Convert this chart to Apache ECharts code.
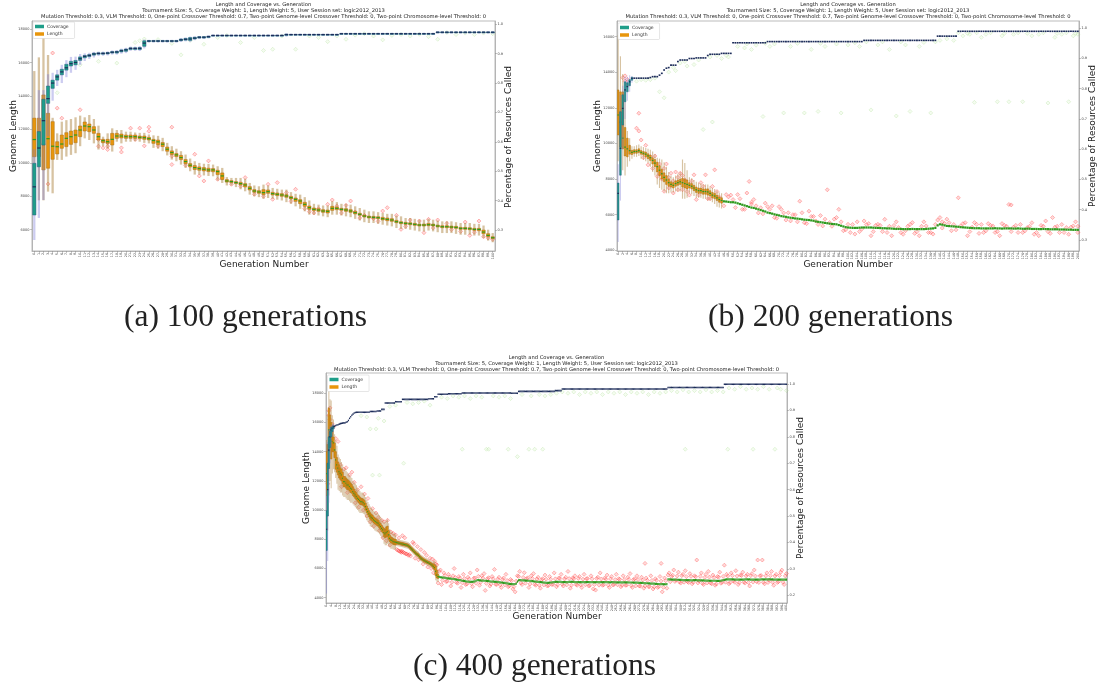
<!DOCTYPE html>
<html><head><meta charset="utf-8">
<script src="https://cdn.jsdelivr.net/npm/echarts@6/dist/echarts.min.js"></script>
<style>html,body{margin:0;padding:0;background:#fff}#c{width:1105px;height:686px}</style>
</head><body><div id="c"></div>
<script>
// ---------- categories (generation numbers) ----------
const gensA = Array.from({length:101},(_,i)=>String(i));
const gensB = Array.from({length:201},(_,i)=>String(i));
const gensC = Array.from({length:401},(_,i)=>String(i));

// ---------- tick labels ----------
const lenTicksA = [6000,8000,10000,12000,14000,16000,18000];
const covTicksA = [0.3,0.4,0.5,0.6,0.7,0.8,0.9,1.0];
const lenTicksB = [4000,6000,8000,10000,12000,14000,16000];
const covTicksB = [0.3,0.4,0.5,0.6,0.7,0.8,0.9,1.0];
const lenTicksC = [4000,6000,8000,10000,12000,14000,16000,18000];
const covTicksC = [0.2,0.3,0.4,0.5,0.6,0.7,0.8,0.9,1.0];

// ---------- (a) 100 generations ----------
const lenMedA = [11400,10950,11130,11450,11000,10970,11130,11470,11570,11670,
11970,12210,12170,11970,11570,11330,11270,11410,11610,11610,
11570,11570,11570,11530,11510,11450,11340,11260,11120,10820,
10620,10480,10320,10080,9860,9720,9660,9620,9580,9580,
9480,9220,8920,8880,8820,8760,8680,8480,8320,8260,
8220,8280,8160,8120,8080,8020,7920,7820,7720,7520,
7320,7220,7180,7120,7100,7280,7280,7220,7180,7120,
7020,6920,6820,6760,6740,6720,6660,6620,6580,6480,
6420,6380,6360,6320,6280,6280,6300,6280,6220,6180,
6180,6160,6140,6080,6080,6060,6020,6020,5860,5660,5520];
// [q1, q3, whisker low, whisker high]
const lenBoxA = [[10370,12680,9700,15500],[10380,12680,7760,16320],[9580,14070,7760,17600],[9680,12970,8280,16460],[10215,12470,8180,12700],
[10535,11270,10180,11770],[10875,11670,10180,12470],[10975,11810,10380,12560],[11110,11910,10480,12630],[11210,11970,10580,12730],
[11570,12210,11000,12830],[11910,12450,11470,12730],[11870,12330,11370,12870],[11770,12170,11170,12630],[11370,11770,10800,12230],
[11210,11410,11000,11570],[11170,11410,10870,11770],[11070,11770,10680,12070],[11470,11770,11270,11970],[11490,11730,11170,11970],
[11470,11670,11270,11870],[11470,11670,11270,11870],[11470,11670,11300,11820],[11450,11610,11270,11800],[11410,11610,11200,11800],
[11370,11530,11170,11700],[11170,11410,10900,11650],[11090,11370,10850,11620],[10980,11220,10700,11500],[10700,10950,10450,11200],
[10500,10720,10200,11000],[10380,10560,10100,10850],[10200,10450,9900,10700],[9950,10200,9700,10500],[9760,9960,9500,10260],
[9600,9840,9300,10100],[9560,9760,9300,10000],[9520,9720,9250,9950],[9480,9680,9220,9940],[9470,9660,9200,9900],
[9300,9560,8950,9800],[9000,9400,8800,9700],[8850,9000,8650,9150],[8820,8940,8650,9100],[8760,8880,8550,9100],
[8680,8840,8420,9100],[8560,8760,8300,9050],[8380,8580,8100,8800],[8240,8400,8000,8650],[8180,8340,7950,8600],
[8100,8400,7850,8700],[8180,8380,7900,8650],[8080,8240,7850,8500],[8040,8200,7800,8450],[8000,8160,7750,8400],
[7940,8100,7650,8400],[7840,8000,7550,8250],[7700,7900,7400,8150],[7560,7800,7250,8100],[7400,7640,7100,7950],
[7220,7420,6900,7750],[7140,7300,6900,7550],[7100,7260,6850,7500],[7040,7200,6800,7450],[7000,7180,6750,7450],
[7160,7400,6900,7700],[7200,7360,6900,7650],[7160,7280,6850,7550],[7100,7260,6800,7550],[7040,7200,6750,7500],
[6940,7100,6650,7400],[6860,6980,6550,7300],[6760,6880,6450,7200],[6700,6820,6400,7100],[6680,6800,6400,7100],
[6660,6780,6350,7050],[6580,6740,6300,7000],[6540,6700,6250,6950],[6500,6660,6200,6950],[6420,6560,6100,6850],
[6360,6480,6050,6800],[6320,6440,6050,6700],[6300,6420,6000,6700],[6260,6380,5950,6650],[6220,6340,5900,6600],
[6220,6340,5900,6600],[6240,6380,5950,6650],[6220,6340,5900,6600],[6160,6280,5850,6550],[6120,6240,5800,6500],
[6120,6240,5800,6500],[6100,6220,5800,6500],[6080,6200,5750,6450],[6020,6140,5700,6400],[6020,6140,5700,6400],
[6000,6120,5700,6400],[5960,6080,5650,6350],[5940,6080,5650,6350],[5760,5980,5500,6250],[5580,5760,5350,6000],
[5460,5580,5250,5800]];
const covMedA = [0.447,0.579,0.672,0.747,0.800,0.821,0.838,0.852,0.866,0.870,
0.883,0.891,0.894,0.899,0.901,0.901,0.902,0.905,0.906,0.910,
0.913,0.918,0.918,0.918,0.936,0.943,0.943,0.943,0.943,0.943,
0.943,0.943,0.947,0.949,0.950,0.953,0.956,0.956,0.958,0.962,
0.962,0.962,0.962,0.962,0.962,0.962,0.962,0.962,0.962,0.962,
0.962,0.962,0.962,0.962,0.962,0.965,0.965,0.965,0.965,0.965,
0.965,0.965,0.965,0.965,0.965,0.965,0.965,0.968,0.968,0.968,
0.968,0.968,0.968,0.968,0.968,0.968,0.968,0.968,0.968,0.968,
0.968,0.968,0.968,0.968,0.968,0.968,0.968,0.968,0.973,0.973,
0.973,0.973,0.973,0.973,0.973,0.973,0.973,0.973,0.973,0.973,0.973];
const covBoxA = [[0.351,0.527,0.266,0.575],[0.515,0.635,0.341,0.776],[0.589,0.745,0.402,0.776],[0.731,0.790,0.620,0.830],[0.782,0.810,0.740,0.835],
[0.810,0.828,0.790,0.845],[0.828,0.847,0.800,0.862],[0.844,0.864,0.820,0.878],[0.858,0.874,0.835,0.889],[0.862,0.877,0.845,0.890],
[0.877,0.889,0.862,0.899],[0.886,0.894,0.875,0.901],[0.890,0.897,0.882,0.903],[0.895,0.902,0.887,0.906],[0.898,0.903,0.892,0.907],
[0.898,0.903,0.893,0.907],[0.899,0.904,0.894,0.908],[0.902,0.907,0.897,0.911],[0.902,0.908,0.897,0.912],[0.906,0.913,0.900,0.917],
[0.908,0.916,0.902,0.920],[0.914,0.920,0.910,0.924],[0.914,0.920,0.910,0.924],[0.914,0.921,0.909,0.926],[0.925,0.944,0.918,0.948],
[0.941,0.945,0.938,0.947],[0.941,0.945,0.938,0.947],[0.941,0.945,0.938,0.947],[0.941,0.945,0.938,0.947],[0.941,0.945,0.938,0.947],
[0.941,0.945,0.938,0.947],[0.941,0.945,0.938,0.947],[0.944,0.950,0.940,0.953],[0.946,0.952,0.942,0.955],[0.945,0.955,0.940,0.958],
[0.950,0.956,0.946,0.959],[0.953,0.958,0.950,0.960],[0.953,0.958,0.950,0.960],[0.955,0.960,0.952,0.962],[0.960,0.963,0.958,0.965],
[0.960,0.963,0.958,0.965],[0.960,0.963,0.958,0.965],[0.960,0.963,0.958,0.965],[0.960,0.963,0.958,0.965],[0.960,0.963,0.958,0.965],
[0.960,0.963,0.958,0.965],[0.960,0.963,0.958,0.965],[0.960,0.963,0.958,0.965],[0.960,0.963,0.958,0.965],[0.960,0.963,0.958,0.965],
[0.960,0.963,0.958,0.965],[0.960,0.963,0.958,0.965],[0.960,0.963,0.958,0.965],[0.960,0.963,0.958,0.965],[0.960,0.963,0.958,0.965],
[0.962,0.967,0.958,0.969],[0.963,0.966,0.961,0.968],[0.963,0.966,0.961,0.968],[0.963,0.966,0.961,0.968],[0.963,0.966,0.961,0.968],
[0.963,0.966,0.961,0.968],[0.963,0.966,0.961,0.968],[0.963,0.966,0.961,0.968],[0.963,0.966,0.961,0.968],[0.963,0.966,0.961,0.968],
[0.963,0.966,0.961,0.968],[0.963,0.966,0.961,0.968],[0.966,0.969,0.964,0.971],[0.966,0.969,0.964,0.971],[0.966,0.969,0.964,0.971],
[0.966,0.969,0.964,0.971],[0.966,0.969,0.964,0.971],[0.966,0.969,0.964,0.971],[0.966,0.969,0.964,0.971],[0.966,0.969,0.964,0.971],
[0.966,0.969,0.964,0.971],[0.966,0.969,0.964,0.971],[0.966,0.969,0.964,0.971],[0.966,0.969,0.964,0.971],[0.966,0.969,0.964,0.971],
[0.966,0.969,0.964,0.971],[0.966,0.969,0.964,0.971],[0.966,0.969,0.964,0.971],[0.966,0.969,0.964,0.971],[0.966,0.969,0.964,0.971],
[0.966,0.969,0.964,0.971],[0.966,0.969,0.964,0.971],[0.966,0.969,0.964,0.971],[0.971,0.974,0.969,0.976],[0.971,0.974,0.969,0.976],
[0.971,0.974,0.969,0.976],[0.971,0.974,0.969,0.976],[0.971,0.974,0.969,0.976],[0.971,0.974,0.969,0.976],[0.971,0.974,0.969,0.976],
[0.971,0.974,0.969,0.976],[0.971,0.974,0.969,0.976],[0.971,0.974,0.969,0.976],[0.971,0.974,0.969,0.976],[0.971,0.974,0.969,0.976],
[0.971,0.974,0.969,0.976]];
const lenOutA = [[3,8740],[4,16580],[5,13280],[6,12680],[10,13180],[14,11400],[14,11000],[15,11300],[15,10900],[16,11200],[16,10800],[16,11000],
[19,10900],[19,10650],[21,12080],[22,11400],[23,12080],[24,11020],[25,12140],[25,11900],[27,11000],[30,12140],[30,10400],[30,9900],
[33,9860],[35,10520],[36,9220],[37,8920],[38,10120],[40,9020],[41,9100],[43,8720],[45,8600],[46,9120],[48,8120],[50,8000],[51,8720],
[52,7820],[53,8820],[55,8220],[56,7700],[57,8420],[59,7260],[60,7080],[61,7000],[62,7260],[64,7520],[65,7780],[66,7420],[67,7000],
[68,7460],[69,7720],[70,7060],[71,6700],[72,6860],[74,6660],[75,6500],[76,7120],[77,7320],[79,6860],[80,6020],[81,6200],[82,6580],
[84,6520],[85,5820],[86,6620],[87,6100],[88,6580],[90,6380],[91,6000],[93,5900],[94,6460],[95,5660],[96,5850],[97,6520],[98,5580],
[99,5500],[100,5420]];
const covOutA = [[5,0.767],[10,0.862],[14,0.874],[18,0.868],[22,0.938],[23,0.944],[24,0.95],[27,0.948],[30,0.935],[32,0.896],[34,0.945],
[37,0.932],[40,0.955],[42,0.962],[45,0.938],[48,0.955],[50,0.911],[52,0.915],[54,0.96],[57,0.915],[60,0.96],[62,0.955],[64,0.941],
[66,0.96],[68,0.949],[70,0.963],[72,0.968],[74,0.96],[76,0.947],[78,0.962],[80,0.965],[82,0.96],[84,0.966],[86,0.958],[88,0.949],
[90,0.972],[92,0.965],[94,0.97],[96,0.965],[98,0.97],[100,0.968]];

// ---------- (b) 200 generations ----------
const lenMedB = [11600,11200,10300,9800,9700,9600,9500,9550,9550,9600,
9500,9450,9400,9300,9200,9050,8900,8700,8500,8300,
8100,7950,7800,7700,7650,7750,7800,7850,7800,7750,
7700,7650,7600,7500,7400,7350,7350,7300,7300,7280,
7200,7100,7050,6950,6850,6800,6750,6740,6720,6700,
6700,6680,6640,6600,6560,6520,6480,6440,6400,6380,
6340,6300,6260,6220,6180,6120,6090,6060,6020,5990,
5960,5920,5900,5880,5850,5830,5810,5790,5780,5760,
5740,5720,5710,5700,5680,5660,5620,5600,5580,5560,
5540,5520,5500,5480,5470,5460,5420,5380,5340,5300,
5280,5270,5260,5260,5260,5270,5280,5280,5280,5280,
5280,5270,5260,5260,5250,5240,5240,5230,5230,5220,
5210,5200,5200,5200,5190,5190,5190,5190,5200,5190,
5190,5190,5190,5190,5200,5210,5220,5230,5260,5400,
5460,5440,5400,5370,5360,5350,5340,5330,5320,5300,
5290,5280,5270,5260,5250,5240,5240,5240,5230,5230,
5230,5230,5230,5230,5240,5230,5230,5220,5230,5230,
5230,5230,5220,5220,5230,5220,5210,5210,5220,5210,
5200,5200,5200,5190,5190,5200,5190,5190,5180,5180,
5180,5180,5170,5170,5170,5160,5160,5160,5150,5150,5150];
const lenBoxB = [[10480,13010,9000,16090],[9800,12900,8400,14900],[9700,12900,8500,13900],[9300,10900,8200,12500],[9250,10300,8700,10700],
[9400,9900,9000,10300],[9380,9620,9150,9850],[9450,9650,9250,9850],[9450,9650,9250,9900],[9500,9700,9300,9950],
[9400,9600,9150,9850],[9350,9550,9100,9800],[9250,9520,9000,9750],[9150,9420,8900,9700],[9050,9350,8700,9650],
[8850,9200,8400,9550],[8700,9100,8200,9400],[8400,8950,7700,9200],[8200,8750,7500,9150],[8000,8550,7400,9100],
[7850,8350,7300,8950],[7700,8200,7200,8700],[7600,8000,7200,8400],[7550,7850,7250,8200],[7500,7800,7250,8100],
[7600,7900,7300,8200],[7650,7950,7300,8300],[7700,8000,7300,8400],[7550,8050,6900,9100],[7500,8000,6900,8900],
[7450,7950,6950,8500],[7500,7800,7200,8100],[7450,7750,7150,8050],[7350,7650,7050,7950],[7250,7550,6950,7850],
[7200,7500,6950,7800],[7200,7500,6950,7750],[7150,7450,6900,7700],[7150,7450,6900,7700],[7100,7450,6800,7700],
[7050,7350,6800,7600],[6950,7250,6700,7500],[6900,7200,6600,7450],[6800,7100,6450,7350],[6700,7000,6400,7250],
[6650,6950,6350,7200]];
const covMedB = [0.454,0.603,0.735,0.796,0.807,0.823,0.834,0.835,0.835,0.835,
0.835,0.835,0.835,0.835,0.837,0.840,0.840,0.840,0.845,0.851,
0.862,0.868,0.870,0.878,0.878,0.878,0.890,0.895,0.895,0.895,
0.895,0.900,0.900,0.900,0.902,0.902,0.902,0.902,0.902,0.910,
0.914,0.914,0.914,0.914,0.914,0.917,0.917,0.917,0.917,0.917,
0.952,0.952,0.952,0.952,0.952,0.952,0.952,0.952,0.952,0.952,
0.952,0.952,0.952,0.952,0.952,0.956,0.956,0.956,0.956,0.956,
0.956,0.956,0.956,0.956,0.956,0.956,0.956,0.956,0.956,0.956,
0.956,0.956,0.956,0.956,0.956,0.956,0.956,0.956,0.956,0.956,
0.956,0.956,0.956,0.956,0.956,0.956,0.956,0.956,0.956,0.956,
0.956,0.956,0.956,0.956,0.956,0.956,0.956,0.960,0.960,0.960,
0.960,0.960,0.960,0.960,0.960,0.960,0.960,0.960,0.960,0.960,
0.960,0.960,0.960,0.960,0.960,0.960,0.960,0.960,0.960,0.960,
0.960,0.960,0.960,0.960,0.960,0.960,0.960,0.960,0.960,0.974,
0.974,0.974,0.974,0.974,0.974,0.974,0.974,0.974,0.990,0.990,
0.990,0.990,0.990,0.990,0.990,0.990,0.990,0.990,0.990,0.990,
0.990,0.990,0.990,0.990,0.990,0.990,0.990,0.990,0.990,0.990,
0.990,0.990,0.990,0.990,0.990,0.990,0.990,0.990,0.990,0.990,
0.990,0.990,0.990,0.990,0.990,0.990,0.990,0.990,0.990,0.990,
0.990,0.990,0.990,0.990,0.990,0.990,0.990,0.990,0.990,0.990,0.990];
const covBoxB = [[0.366,0.488,0.293,0.55],[0.514,0.724,0.43,0.78],[0.68,0.78,0.6,0.81],[0.757,0.823,0.7,0.84],[0.79,0.82,0.76,0.84],
[0.81,0.83,0.79,0.845],[0.828,0.838,0.82,0.842]];
const lenOutB = [[2,13700],[3,13800],[3,13500],[4,13600],[4,13300],[8,10860],[9,11700],[9,10700],[10,10200],[11,9200],[12,9900],[13,8800],
[14,9260],[15,8600],[16,9300],[17,8150],[18,8850],[18,8300],[19,8000],[20,7315],[20,8600],[21,8850],[22,7500],[22,8100],[23,8330],[24,7220],
[24,7900],[25,8400],[26,8100],[26,7400],[27,8330],[28,7400],[28,8200],[29,7960],[30,7300],[31,7100],[32,7900],[33,8240],[34,6850],
[35,7100],[36,7800],[37,7600],[38,8240],[39,6900],[40,6900],[41,7590],[42,8520],[43,7300],[44,7000],[45,6760],[46,6500],[47,7130],
[48,7000],[49,7100],[50,6850],[51,6400],[52,7130],[53,6900],[54,6300],[55,6300],[56,7220],[57,7870],[58,6700],[58,6600],[59,6850],
[60,6500],[61,6100],[62,6390],[63,6050],[64,6650],[65,6450],[66,6300],[67,6500],[68,5840],[69,5800],[70,6450],[71,6300],[72,6100],
[73,5700],[74,6110],[75,5650],[76,6000],[77,6000],[78,5600],[79,6760],[80,6110],[81,5550],[82,5500],[83,6200],[84,5900],[85,5900],
[86,5650],[87,5450],[88,5950],[89,5370],[90,5750],[91,7400],[92,5560],[93,5350],[94,5750],[95,5840],[96,6300],[97,5600],[98,5100],
[99,5150],[100,5460],[101,5000],[102,5450],[103,4910],[104,5600],[105,5050],[106,5190],[107,5650],[108,5450],[109,5500],[110,4820],
[111,5050],[112,5400],[113,5460],[114,5400],[115,5050],[116,5740],[117,5000],[118,5350],[119,4820],[120,5400],[121,5600],[122,5280],
[123,5000],[124,4900],[125,5100],[126,5350],[127,5450],[128,5560],[129,4950],[130,5050],[131,4820],[132,5350],[133,5600],[134,5370],
[135,5000],[136,5000],[137,4910],[138,5450],[139,5700],[140,5840],[141,5600],[141,5250],[142,5500],[143,5750],[144,5550],[145,5100],
[146,5450],[147,5150],[148,6950],[149,5370],[150,5500],[151,5550],[152,4820],[153,5050],[154,5300],[155,5560],[156,5450],[157,4950],
[158,5450],[159,5000],[160,5100],[161,5500],[162,5400],[163,5370],[164,5000],[165,5050],[166,4820],[167,5500],[168,5400],[169,5350],
[170,6575],[171,6550],[171,5050],[172,5300],[173,5400],[174,5000],[175,5450],[176,5000],[177,5100],[178,5280],[179,5350],[180,5550],
[181,4900],[182,5000],[183,4820],[184,5400],[185,5350],[186,5650],[187,5050],[188,4950],[189,5840],[190,5300],[191,5350],[192,5000],
[193,5450],[194,5000],[195,5280],[196,4900],[197,5300],[198,5370],[199,5600],[200,5000],[200,5350]];
const covOutB = [[8,0.825],[10,0.83],[12,0.828],[14,0.83],[16,0.835],[18,0.79],[20,0.77],[22,0.855],[24,0.87],[25,0.86],[27,0.885],
[29,0.89],[30,0.875],[33,0.88],[35,0.895],[37,0.665],[40,0.905],[41,0.69],[43,0.91],[45,0.9],[47,0.91],[48,0.905],[52,0.94],[55,0.935],
[56,0.948],[58,0.93],[60,0.944],[63,0.708],[64,0.95],[66,0.94],[68,0.948],[72,0.72],[75,0.94],[78,0.95],[81,0.72],[84,0.93],[87,0.725],
[88,0.95],[90,0.94],[95,0.948],[97,0.72],[100,0.945],[103,0.952],[105,0.94],[108,0.955],[110,0.73],[113,0.945],[115,0.955],[118,0.93],
[121,0.71],[123,0.955],[125,0.945],[127,0.725],[131,0.94],[133,0.953],[136,0.72],[138,0.955],[140,0.96],[143,0.965],[146,0.96],
[148,0.985],[150,0.975],[152,0.983],[153,0.98],[155,0.755],[156,0.985],[158,0.97],[160,0.98],[162,0.985],[165,0.757],[167,0.975],
[168,0.983],[170,0.757],[172,0.98],[174,0.985],[176,0.757],[178,0.983],[180,0.975],[183,0.98],[185,0.985],[187,0.753],[190,0.97],
[191,0.983],[193,0.98],[195,0.985],[196,0.757],[198,0.975],[199,0.983],[200,0.98]];

// ---------- (c) 400 generations ----------
const lenMedC = [12500,13000,15500,15500,14800,14700,14600,14120,13440,13100,
12870,12640,12520,12410,12180,11950,11950,11840,11720,11720,
11610,11500,11430,11270,11150,11040,10930,10810,10740,10650,
10580,10580,10510,10420,10240,10050,9900,9740,9600,9510,
9440,9330,9260,9210,9140,9100,8980,8870,8750,8640,
8460,8370,8460,8530,8300,8070,7960,7920,7850,7820,
7800,7780,7760,7740,7720,7700,7680,7660,7640,7620,
7600,7560,7500,7420,7340,7260,7180,7100,7020,6960,
6900,6800,6720,6660,6600,6550,6500,6460,6420,6390,
6340,6290,6230,6150,6060,5800,5550,5450,5420,5400,
5390,5380,5370,5360,5340,5330,5320,5310,5300,5290,
5280,5270,5250,5240,5230,5210,5200,5180,5160,5150,
5140,5120,5110,5100,5090,5090,5090,5090,5100,5120,
5160,5200,5200,5190,5180,5170,5170,5160,5160,5150,
5140,5130,5120,5110,5100,5100,5090,5090,5080,5070,
5060,5050,5040,5030,5020,5020,5000,4980,4960,4950,
4940,4930,4930,4930,4940,4960,5100,5190,5200,5200,
5190,5180,5180,5170,5170,5160,5160,5150,5140,5130,
5120,5110,5100,5090,5090,5080,5070,5060,5050,5040,
5030,5020,5020,5020,5030,5040,5050,5060,5070,5080,
5090,5090,5090,5080,5080,5070,5070,5070,5070,5070,
5070,5080,5080,5090,5090,5080,5070,5070,5060,5060,
5060,5070,5070,5070,5060,5060,5060,5070,5070,5070,
5060,5060,5060,5060,5060,5070,5070,5060,5060,5060,
5060,5060,5060,5060,5060,5060,5050,5050,5060,5060,
5060,5050,5050,5050,5050,5050,5050,5050,5050,5050,
5050,5050,5050,5040,5040,5040,5040,5030,5030,5030,
5030,5020,5020,5020,5010,5010,5000,5000,4990,4990,
4980,4980,4970,4970,4960,4960,4950,4950,4940,4940,
4930,4930,4930,4920,4920,4920,4930,5250,5250,5250,
5240,5240,5240,5240,5230,5230,5230,5220,5220,5220,
5210,5210,5210,5200,5200,5200,5200,5190,5190,5200,
5200,5200,5200,5190,5190,5180,5180,5180,5180,5170,
5170,5170,5170,5160,5160,5160,5160,5160,5160,5150,
5150,5150,5150,5160,5180,5200,5220,5240,5250,5250,
5250,5250,5250,5250,5250,5240,5240,5240,5240,5240,
5240,5240,5240,5240,5250,5250,5250,5250,5250,5240,
5240,5240,5240,5240,5240,5240,5240,5240,5250,5250,
5250,5250,5250,5250,5250,5250,5250,5250,5250,5240,
5240,5240,5240,5240,5240,5240,5240,5240,5240,5240,5240];
const lenBoxC = [[11000,14000,9000,14800],[12000,14500,8600,16500],[14000,17000,11000,18300],[14500,16500,12000,17600],[13500,16000,11500,17500],
[14000,15400,12500,16500],[14000,15000,12800,16200],[13600,14600,12600,15200],[12800,14000,12200,14800],[12600,13600,11800,14400],
[12400,13300,11400,13800],[12200,13100,11300,13600],[12100,12900,11200,13500],[12000,12800,11200,13300],[11800,12600,11000,13100],
[11600,12300,10900,12800],[11600,12300,10900,12900],[11500,12200,10800,12700],[11400,12100,10700,12600],[11400,12050,10700,12500],
[11300,11950,10600,12400],[11200,11850,10500,12300],[11150,11750,10500,12200],[11000,11600,10400,12000],[10900,11450,10300,11900],
[10800,11300,10200,11800],[10700,11200,10100,11700],[10600,11050,10000,11500],[10500,10980,9900,11400],[10400,10900,9800,11300],
[10350,10820,9800,11200],[10350,10800,9800,11200],[10300,10750,9750,11150],[10200,10650,9700,11050],[10000,10480,9500,10900],
[9820,10280,9300,10700],[9680,10120,9200,10550],[9520,9960,9050,10400],[9380,9820,8900,10250],[9300,9720,8850,10150],
[9230,9650,8800,10050],[9120,9540,8700,9950],[9050,9470,8600,9900],[9000,9420,8550,9850],[8930,9350,8500,9800],
[8890,9310,8450,9750],[8770,9190,8350,9650],[8660,9080,8250,9550],[8540,8960,8100,9400],[8430,8850,8000,9300],
[8200,8750,7700,9200],[8100,8700,7600,9200],[8150,8850,7600,9300],[8200,8900,7700,9350],[8000,8600,7500,9100],
[7850,8300,7450,8700],[7750,8170,7350,8550],[7720,8120,7350,8500],[7650,8050,7300,8400],[7630,8020,7300,8380],
[7610,8000,7280,8350],[7680,7880,7550,8020],[7660,7860,7530,8000],[7640,7840,7510,7980],[7620,7820,7490,7960],
[7600,7800,7470,7940],[7580,7780,7450,7920],[7560,7760,7430,7900],[7540,7740,7410,7880],[7520,7720,7390,7860],
[7500,7700,7370,7840],[7460,7660,7330,7800],[7400,7600,7270,7740],[7320,7520,7190,7660],[7240,7440,7110,7580],
[7160,7360,7030,7500],[7080,7280,6950,7420],[7000,7200,6870,7340],[6920,7120,6790,7260],[6860,7060,6730,7200],
[6800,7000,6670,7140],[6700,6900,6570,7040],[6620,6820,6490,6960],[6560,6760,6430,6900],[6500,6700,6370,6840],
[6450,6650,6320,6790],[6400,6600,6270,6740],[6360,6560,6230,6700],[6320,6520,6190,6660],[6290,6490,6160,6630],
[6240,6440,6110,6580],[6190,6390,6060,6530],[6130,6330,6000,6470],[6000,6320,5850,6500],[5900,6250,5550,6550],
[5500,6150,5200,6300],[5350,5900,5100,6200],[5320,5600,5100,5850]];
const covMedC = [0.45,0.60,0.75,0.80,0.826,0.832,0.838,0.840,0.843,0.845,
0.846,0.848,0.850,0.851,0.852,0.853,0.853,0.855,0.857,0.862,
0.870,0.876,0.882,0.886,0.890,0.892,0.893,0.893,0.893,0.893,
0.893,0.893,0.893,0.893,0.893,0.893,0.893,0.893,0.896,0.896,
0.896,0.896,0.896,0.896,0.898,0.898,0.898,0.898,0.904,0.904,
0.904,0.928,0.928,0.928,0.928,0.928,0.928,0.928,0.928,0.928,
0.933,0.933,0.933,0.933,0.933,0.933,0.942,0.942,0.942,0.942,
0.942,0.942,0.942,0.942,0.942,0.942,0.942,0.942,0.942,0.942,
0.942,0.942,0.942,0.942,0.942,0.942,0.942,0.942,0.942,0.944,
0.944,0.944,0.944,0.944,0.952,0.952,0.952,0.961,0.961,0.961,
0.961,0.961,0.961,0.961,0.961,0.961,0.963,0.963,0.963,0.963,
0.963,0.963,0.963,0.963,0.963,0.963,0.963,0.963,0.966,0.966,
0.966,0.966,0.966,0.966,0.966,0.966,0.966,0.966,0.966,0.966,
0.966,0.966,0.966,0.966,0.966,0.966,0.966,0.966,0.966,0.966,
0.966,0.966,0.966,0.966,0.966,0.966,0.966,0.966,0.966,0.966,
0.966,0.966,0.966,0.966,0.966,0.966,0.966,0.966,0.966,0.966,
0.966,0.965,0.965,0.965,0.965,0.965,0.965,0.972,0.972,0.972,
0.972,0.972,0.972,0.972,0.972,0.972,0.972,0.972,0.972,0.972,
0.972,0.972,0.972,0.972,0.972,0.972,0.972,0.972,0.972,0.972,
0.972,0.972,0.972,0.972,0.972,0.972,0.972,0.972,0.972,0.975,
0.975,0.975,0.975,0.975,0.975,0.981,0.981,0.981,0.981,0.981,
0.981,0.981,0.981,0.981,0.981,0.981,0.981,0.981,0.981,0.981,
0.981,0.981,0.981,0.981,0.981,0.981,0.981,0.981,0.981,0.981,
0.981,0.981,0.981,0.981,0.981,0.981,0.981,0.981,0.981,0.981,
0.981,0.981,0.981,0.981,0.981,0.981,0.981,0.981,0.981,0.981,
0.981,0.981,0.981,0.981,0.981,0.981,0.981,0.981,0.981,0.981,
0.981,0.981,0.981,0.981,0.981,0.981,0.981,0.981,0.981,0.981,
0.981,0.981,0.981,0.981,0.981,0.981,0.981,0.981,0.981,0.981,
0.981,0.981,0.981,0.981,0.981,0.981,0.981,0.981,0.981,0.981,
0.981,0.981,0.981,0.981,0.981,0.981,0.981,0.987,0.987,0.987,
0.987,0.987,0.987,0.987,0.987,0.987,0.987,0.987,0.987,0.987,
0.987,0.987,0.987,0.987,0.987,0.987,0.987,0.987,0.987,0.987,
0.987,0.987,0.987,0.987,0.987,0.987,0.987,0.987,0.987,0.987,
0.987,0.987,0.987,0.987,0.987,0.987,0.987,0.987,0.987,0.987,
0.987,0.987,0.987,0.987,0.987,0.987,0.999,0.999,0.999,0.999,
0.999,0.999,0.999,0.999,0.999,0.999,0.999,0.999,0.999,0.999,
0.999,0.999,0.999,0.999,0.999,0.999,0.999,0.999,0.999,0.999,
0.999,0.999,0.999,0.999,0.999,0.999,0.999,0.999,0.999,0.999,
0.999,0.999,0.999,0.999,0.999,0.999,0.999,0.999,0.999,0.999,
0.999,0.999,0.999,0.999,0.999,0.999,0.999,0.999,0.999,0.999,0.999];
const covBoxC = [[0.37,0.52,0.207,0.60],[0.50,0.70,0.33,0.78],[0.68,0.80,0.55,0.83],[0.76,0.82,0.70,0.84],[0.80,0.835,0.76,0.845],
[0.82,0.838,0.80,0.85],[0.83,0.842,0.82,0.85]];
const lenOutC = [[1,11800],[2,16500],[2,16800],[3,17000],[3,16200],[4,15000],[5,15900],[6,15700],[8,14900],[10,14700],[12,13100],[13,11600],
[15,12800],[17,12900],[18,11200],[20,12400],[22,12600],[24,11900],[25,10500],[27,11400],[28,10200],[30,11600],[32,10000],[33,11100],
[35,9600],[36,10800],[38,9200],[40,10100],[41,8900],[43,9800],[45,9500],[46,8600],[48,9300],[49,8100],[50,9200],[52,7900],[53,9300],
[55,7600],[56,8500],[58,8400],[60,8300],[61,7300],[62,7250],[63,8100],[63,7200],[64,7150],[65,7200],[65,7100],[66,8250],[66,7150],
[67,7100],[68,8100],[68,7050],[69,7000],[70,7000],[71,6900],[72,6950],[73,6850],
[75,7800],[76,7700],[77,6700],[79,7500],[80,6600],[82,7300],[84,6300],[85,7100],[87,6900],[88,6100],[90,6700],[91,6000],[92,6650],
[93,5700],[94,6500],[95,6300],[96,6250],[97,5000],[98,5800],[99,5900],[100,4900],[102,5700],[104,5100],[106,5600],[108,4800],
[110,5500],[111,6000],[113,5050],[115,5450],[117,4700],[119,5600],[121,4900],[123,5400],[125,5700],[127,4750],[129,5350],[131,5900],
[133,4850],[135,5500],[137,5650],[138,4500],[140,5300],[142,4800],[144,5450],[146,5940],[148,4900],[150,5400],[152,4700],[154,5350],
[156,5600],[158,4750],[160,5250],[162,4600],[164,4400],[166,5500],[168,5800],[170,4900],[172,5710],[174,5300],[176,4700],[178,5500],
[180,5650],[182,4850],[184,5400],[186,4650],[188,5300],[190,5550],[192,4800],[194,5450],[196,4900],[198,5700],[200,4750],[202,5350],
[204,5600],[206,4800],[208,5400],[210,5800],[212,4650],[214,5350],[216,5500],[218,4850],[220,5450],[222,4700],[224,5600],[226,5300],
[228,4800],[230,5500],[232,4600],[234,4520],[236,5400],[238,5700],[240,4850],[242,5350],[244,5550],[246,4700],[248,5450],[250,4900],
[252,5600],[254,5300],[256,4750],[258,5500],[260,4850],[262,5400],[264,5650],[266,4700],[268,5300],[270,5500],[272,4800],[274,5400],
[276,4650],[277,6350],[278,5350],[280,4750],[282,5500],[284,4600],[286,5300],[288,4700],[290,5450],[291,6350],[292,4400],[294,5350],
[296,4650],[298,5700],[300,5450],[302,5900],[304,5200],[306,5750],[308,5000],[310,5600],[312,5850],[314,5100],[316,5650],[318,4950],
[320,5500],[322,6580],[324,5150],[326,5700],[328,4900],[330,5600],[332,5800],[334,5000],[336,5550],[338,4850],[340,5450],[342,5750],
[344,5050],[346,6230],[348,5600],[350,4950],[352,5700],[354,5150],[356,5850],[358,4900],[360,5550],[362,5750],[364,5000],[366,5600],
[368,4800],[370,5650],[372,5900],[374,5100],[375,6580],[377,5500],[379,6580],[381,4950],[383,5700],[385,5200],[387,5800],[389,4850],
[391,5600],[393,5100],[395,5750],[396,5890],[398,4900],[400,5650]];
const lenOutC2 = [[101,5180],[103,5520],[105,5130],[107,5420],[109,5060],[112,5380],[114,4990],[116,5330],[118,5020],[120,5310],
[122,4930],[124,5270],[126,4960],[128,5330],[130,4990],[132,5460],[134,5060],[136,5340],[139,4980],[141,5370],[143,4940],[145,5290],
[147,4920],[149,5260],[151,4880],[153,5240],[155,4870],[157,5180],[159,4810],[161,5160],[163,4760],[165,5140],[167,5460],[169,5010],
[171,5390],[173,4990],[175,5360],[177,4940],[179,5310],[181,4920],[183,5280],[185,4860],[187,5230],[189,4870],[191,5270],[193,4840],
[195,5260],[197,4910],[199,5290],[201,4890],[203,5320],[205,4920],[207,5280],[209,4880],[211,5310],[213,4860],[215,5290],[217,4910],
[219,5320],[221,4870],[223,5270],[225,4890],[227,5310],[229,4840],[231,5290],[233,4900],[235,5310],[237,4860],[239,5280],[241,4880],
[243,5260],[245,4860],[247,5290],[249,4870],[251,5240],[253,4890],[255,5260],[257,4850],[259,5240],[261,4860],[263,5250],[265,4840],
[267,5230],[269,4810],[271,5240],[273,4790],[275,5210],[277,4800],[279,5190],[281,4760],[283,5180],[285,4740],[287,5190],[289,4760],
[291,5140],[293,4710],[295,5160],[297,5560],[299,5090],[301,5540],[303,5110],[305,5490],[307,5080],[309,5510],[311,5060],[313,5440],
[315,5040],[317,5460],[319,5060],[321,5430],[323,5010],[325,5460],[327,4990],[329,5390],[331,5010],[333,5410],[335,4960],[337,5380],
[339,4940],[341,5410],[343,4990],[345,5460],[347,5060],[349,5490],[351,5040],[353,5510],[355,5060],[357,5480],[359,5040],[361,5520],
[363,5060],[365,5490],[367,5040],[369,5510],[371,5070],[373,5480],[376,5040],[378,5520],[380,5060],[382,5490],[384,5040],[386,5510],
[388,5060],[390,5480],[392,5040],[394,5520],[397,5060],[399,5490]];
const covOutC = [[30,0.88],[35,0.875],[38,0.83],[40,0.655],[43,0.83],[45,0.87],[46,0.655],[50,0.86],[55,0.915],[60,0.92],[67,0.70],
[70,0.93],[75,0.925],[80,0.93],[85,0.935],[90,0.92],[100,0.95],[105,0.945],[110,0.955],[115,0.95],[118,0.753],[120,0.955],[125,0.945],
[130,0.955],[135,0.95],[139,0.753],[141,0.753],[145,0.955],[150,0.95],[155,0.955],[158,0.753],[160,0.945],[166,0.725],[170,0.96],
[176,0.753],[178,0.955],[181,0.753],[185,0.96],[188,0.753],[190,0.955],[195,0.96],[200,0.965],[205,0.97],[210,0.965],[215,0.97],
[220,0.96],[225,0.97],[230,0.965],[235,0.97],[240,0.96],[245,0.97],[250,0.965],[255,0.97],[260,0.96],[265,0.97],[270,0.965],
[275,0.97],[280,0.96],[285,0.97],[290,0.965],[295,0.97],[300,0.975],[305,0.97],[310,0.978],[312,0.753],[315,0.97],[320,0.975],
[325,0.97],[330,0.978],[335,0.97],[340,0.975],[345,0.97],[349,0.753],[350,0.985],[355,0.98],[360,0.99],[365,0.98],[370,0.985],
[371,0.753],[375,0.98],[380,0.99],[385,0.98],[390,0.753],[392,0.985],[395,0.98],[400,0.975]];

// ---------- texts ----------
const titleLines = ['Length and Coverage vs. Generation',
 'Tournament Size: 5, Coverage Weight: 1, Length Weight: 5, User Session set: logic2012_2013',
 'Mutation Threshold: 0.3, VLM Threshold: 0, One-point Crossover Threshold: 0.7, Two-point Genome-level Crossover Threshold: 0, Two-point Chromosome-level Threshold: 0'];
const captions = ['(a) 100 generations','(b) 200 generations','(c) 400 generations'];

// ---------- styles ----------
const FONT = 'DejaVu Sans';
const lenSty = {whisker:'rgba(176,136,70,0.5)', box:'#e8960c', edge:'#a8701c', med:'#2f9a1e', legend:'#e8960c', ww:0.5, bw:0.72, mw:0.95, mh:2.2};
const covSty = {whisker:'rgba(120,120,215,0.38)', box:'#1f9e89', edge:'#2b5f86', med:'#1d2d5a', legend:'#1f9e89', ww:0.5, bw:0.72, mw:0.8, mh:1.6};

function boxSeries(name, gi, yi, med, boxes, sty, z) {
  return {
    type:'custom', name:name, xAxisIndex:gi, yAxisIndex:yi, z:z, clip:true, animation:false,
    itemStyle:{color:sty.legend},
    data: med.map(function(v,i){return [i,v];}),
    renderItem: function(params, api){
      const g = api.value(0), m = api.value(1);
      const band = api.size([1,0])[0];
      const p = api.coord([g,m]);
      const cx = p[0], my = p[1];
      const b = boxes[g];
      const ch = [];
      if (b) {
        const yq1 = api.coord([g,b[0]])[1], yq3 = api.coord([g,b[1]])[1];
        const ylo = api.coord([g,b[2]])[1], yhi = api.coord([g,b[3]])[1];
        const ww = Math.max(band*sty.ww, 1);
        ch.push({type:'rect', shape:{x:cx-ww/2, y:yhi, width:ww, height:ylo-yhi}, style:{fill:sty.whisker}});
        const bw = Math.max(band*sty.bw, 1.5);
        ch.push({type:'rect', shape:{x:cx-bw/2, y:yq3, width:bw, height:Math.max(yq1-yq3,1)}, style:{fill:sty.box, stroke:sty.edge, lineWidth:0.5}});
        ch.push({type:'rect', shape:{x:cx-bw/2, y:my-0.6, width:bw, height:1.2}, style:{fill:sty.med}});
      } else {
        const mw = Math.max(band*sty.mw, 1.2);
        ch.push({type:'rect', shape:{x:cx-mw/2, y:my-sty.mh/2, width:mw, height:sty.mh}, style:{fill:sty.med}});
      }
      return {type:'group', children:ch};
    }
  };
}
function outSeries(gi, yi, data, red, z) {
  return {type:'scatter', name: red?'lenOut':'covOut', xAxisIndex:gi, yAxisIndex:yi, z:z, data:data, symbol:'diamond', symbolSize:4,
    silent:true, animation:false,
    itemStyle: red ? {color:'rgba(255,70,70,0.25)', borderColor:'rgba(255,20,20,0.6)', borderWidth:0.6}
                   : {color:'rgba(190,235,160,0.2)', borderColor:'rgba(150,215,120,0.6)', borderWidth:0.5}};
}
function xAx(gi, cats, step) {
  return {type:'category', gridIndex:gi, data:cats, boundaryGap:true,
    axisLine:{show:true, lineStyle:{color:'#aaa', width:0.8}},
    axisTick:{show:true, alignWithLabel:true, interval:step-1, length:2, lineStyle:{color:'#888', width:0.5}},
    axisLabel:{interval:step-1, rotate:90, fontSize:3.3, color:'#444', margin:2, fontFamily:FONT},
    splitLine:{show:false}};
}
function yAx(gi, pos, min, max, ticks, dec) {
  return {type:'value', gridIndex:gi, position:pos, min:min, max:max,
    axisLine:{show:true, lineStyle:{color:'#aaa', width:0.8}},
    axisTick:{show:true, customValues:ticks, length:2, lineStyle:{color:'#888', width:0.5}},
    axisLabel:{show:true, customValues:ticks, formatter:function(v){return dec?Number(v).toFixed(1):String(Math.round(v));},
      fontSize:3.5, color:'#444', margin:2.5, fontFamily:FONT},
    splitLine:{show:false}};
}
function txt(x, y, s, size, rot, family) {
  return {type:'text', x:x, y:y, rotation:rot||0, silent:true, z:100,
    style:{text:s, fontSize:size, fontFamily:family||FONT, fill:'#222', align:'center', verticalAlign:'middle',
      textAlign:'center', textVerticalAlign:'middle'}};
}
function legendAt(left, top) {
  return {left:left, top:top, orient:'vertical', data:['Coverage','Length'], icon:'rect', itemWidth:9, itemHeight:3.5, itemGap:2.5,
    selectedMode:false, padding:[2,6,2,2], borderColor:'#ccc', borderWidth:0.5, borderRadius:1, backgroundColor:'#fff',
    textStyle:{fontSize:4.5, color:'#333', fontFamily:FONT, padding:[0,0,0,-2]}};
}

const grids = [
  {left:32, top:21, width:463, height:230},
  {left:617, top:21, width:462, height:230},
  {left:326, top:373, width:461, height:230}
];
const panels = [
  {cx:263.5, t:[5,11,17], gl:[14,136], pr:[509,137], gn:[264,264.7], cap:[245.5,318]},
  {cx:848, t:[5,11,17], gl:[598,136], pr:[1093,136], gn:[848,264.7], cap:[830.5,318]},
  {cx:556.5, t:[357.3,364,370], gl:[307,488], pr:[800.5,488], gn:[557,616.7], cap:[534.5,667]}
];
const g = [];
panels.forEach(function(p,i){
  titleLines.forEach(function(s,k){ g.push(txt(p.cx, p.t[k], s, 5.2)); });
  g.push(txt(p.gl[0], p.gl[1], 'Genome Length', 9, Math.PI/2));
  g.push(txt(p.pr[0], p.pr[1], 'Percentage of Resources Called', 9, Math.PI/2));
  g.push(txt(p.gn[0], p.gn[1], 'Generation Number', 9));
  g.push(txt(p.cap[0], p.cap[1], captions[i], 31.5, 0, 'Liberation Serif'));
});

const option = {
  animation:false, backgroundColor:'#fff',
  grid: grids.map(function(x){return Object.assign({show:true, borderColor:'#aaa', borderWidth:0.8, backgroundColor:'#fff'}, x);}),
  legend:[legendAt(33,22), legendAt(618,23), legendAt(327.5,375)],
  xAxis:[xAx(0,gensA,1), xAx(1,gensB,2), xAx(2,gensC,4)],
  yAxis:[
    yAx(0,'left',4725,18497,lenTicksA,false), yAx(0,'right',0.2286,1.0112,covTicksA,true),
    yAx(1,'left',3961,16882,lenTicksB,false), yAx(1,'right',0.2633,1.0241,covTicksB,true),
    yAx(2,'left',3637,19390,lenTicksC,false), yAx(2,'right',0.1708,1.0417,covTicksC,true)
  ],
  series:[
    outSeries(0,1,covOutA,false,1), outSeries(0,0,lenOutA,true,2),
    boxSeries('Length',0,0,lenMedA,lenBoxA,lenSty,3), boxSeries('Coverage',0,1,covMedA,covBoxA,covSty,4),
    outSeries(1,3,covOutB,false,1), outSeries(1,2,lenOutB,true,2),
    boxSeries('Length',1,2,lenMedB,lenBoxB,lenSty,3), boxSeries('Coverage',1,3,covMedB,covBoxB,covSty,4),
    outSeries(2,5,covOutC,false,1), outSeries(2,4,lenOutC.concat(lenOutC2),true,2),
    boxSeries('Length',2,4,lenMedC,lenBoxC,lenSty,3), boxSeries('Coverage',2,5,covMedC,covBoxC,covSty,4)
  ],
  graphic:{elements:g}
};
const chart = echarts.init(document.getElementById('c'), null, {renderer:'canvas', width:1105, height:686});
chart.setOption(option);
</script></body></html>
